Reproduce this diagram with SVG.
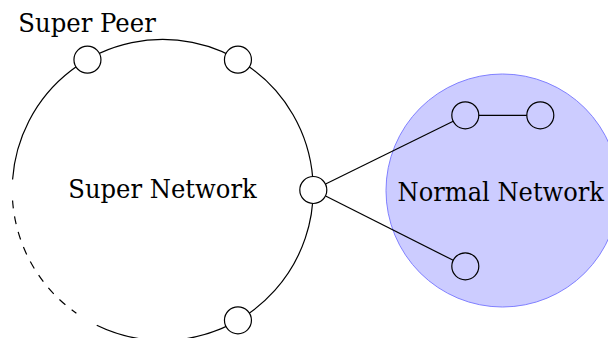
<svg xmlns="http://www.w3.org/2000/svg" width="608" height="338" viewBox="0 0 608 338">
<style>
text{font-family:'DejaVu Serif','Liberation Serif',serif;font-size:26px;fill:#000}
.node{fill:#fff;stroke:#000;stroke-width:1.2}
.inode{fill:none;stroke:#000;stroke-width:1.2}
.edge{fill:none;stroke:#000;stroke-width:1.2}
</style>
<rect width="608" height="338" fill="#fff"/>
<g id="normal-network">
<circle cx="502.5" cy="190.5" r="116.5" fill="#ccccff" stroke="#8080ff" stroke-width="1"/>
<text x="397.5" y="200.5" textLength="206.5" lengthAdjust="spacingAndGlyphs">Normal Network</text>
</g>
<g id="connectors">
<path class="edge" d="M 12.57 179.5 A 150.5 150.5 0 1 1 96.73 325.27"/>
<path class="edge" d="M 12.57 200.5 A 150.5 150.5 0 0 0 76.38 313.28" stroke-dasharray="8 8"/>
<line class="edge" x1="325.6" y1="184" x2="453.2" y2="121.3"/>
<line class="edge" x1="325.6" y1="196" x2="453.2" y2="260.3"/>
<line class="edge" x1="478.8" y1="115.3" x2="526.8" y2="115.3"/>
</g>
<g id="super-network-label">
<text x="68.3" y="197.5" textLength="188.5" lengthAdjust="spacingAndGlyphs">Super Network</text>
</g>
<g id="super-peer-label">
<text x="18.3" y="32.3" textLength="137.5" lengthAdjust="spacingAndGlyphs">Super Peer</text>
</g>
<g id="peer-top-left"><circle class="node" cx="87.45" cy="59.7" r="13.5"/></g>
<g id="peer-top-right"><circle class="node" cx="237.95" cy="59.7" r="13.5"/></g>
<g id="peer-right"><circle class="node" cx="313.3" cy="190" r="13.5"/></g>
<g id="peer-bottom"><circle class="node" cx="237.95" cy="320.3" r="13.5"/></g>
<g id="normal-a"><circle class="inode" cx="465.3" cy="115.3" r="13.5"/></g>
<g id="normal-b"><circle class="inode" cx="540.3" cy="115.3" r="13.5"/></g>
<g id="normal-c"><circle class="inode" cx="465.3" cy="266.3" r="13.5"/></g>
</svg>
